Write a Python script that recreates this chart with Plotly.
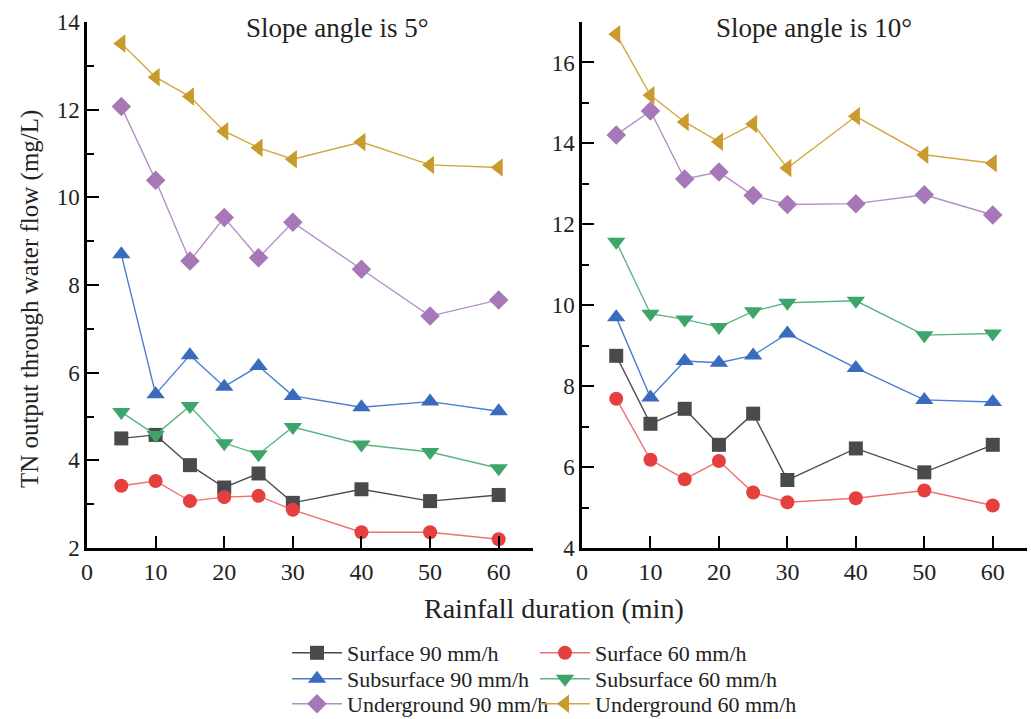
import plotly.graph_objects as go

duration = [5, 10, 15, 20, 25, 30, 40, 50, 60]

# Slope 5 degrees
s5_surface_90 = [4.50, 4.58, 3.89, 3.38, 3.70, 3.03, 3.34, 3.07, 3.21]
s5_surface_60 = [3.42, 3.53, 3.07, 3.16, 3.19, 2.87, 2.36, 2.36, 2.20]
s5_subsurface_90 = [8.70, 5.51, 6.40, 5.68, 6.15, 5.47, 5.21, 5.34, 5.12]
s5_subsurface_60 = [5.10, 4.58, 5.24, 4.39, 4.14, 4.76, 4.36, 4.19, 3.82]
s5_underground_90 = [12.07, 10.39, 8.55, 9.54, 8.62, 9.43, 8.36, 7.29, 7.66]
s5_underground_60 = [13.51, 12.74, 12.30, 11.51, 11.13, 10.87, 11.26, 10.74, 10.68]

# Slope 10 degrees
s10_surface_90 = [8.75, 7.07, 7.44, 6.55, 7.32, 5.68, 6.46, 5.87, 6.55]
s10_surface_60 = [7.69, 6.18, 5.70, 6.15, 5.37, 5.13, 5.23, 5.42, 5.05]
s10_subsurface_90 = [9.70, 7.72, 8.62, 8.58, 8.76, 9.30, 8.45, 7.66, 7.61]
s10_subsurface_60 = [11.57, 9.79, 9.65, 9.46, 9.85, 10.06, 10.11, 9.26, 9.30]
s10_underground_90 = [14.21, 14.80, 13.12, 13.29, 12.71, 12.49, 12.51, 12.73, 12.23]
s10_underground_60 = [16.70, 15.19, 14.53, 14.04, 14.48, 13.39, 14.67, 13.72, 13.51]

names = ["Surface 90 mm/h", "Surface 60 mm/h", "Subsurface 90 mm/h",
         "Subsurface 60 mm/h", "Underground 90 mm/h", "Underground 60 mm/h"]
colors = ["#4a4a4a", "#e5403f", "#3a6cbd", "#3da56a", "#a678b8", "#c99a2c"]
line_colors = ["#4a4a4a", "#ee7070", "#4a7dcc", "#5ab580", "#b48fc6", "#d4a640"]
symbols = ["square", "circle", "triangle-up", "triangle-down", "diamond", "triangle-left"]
sizes = [14, 14, 16, 16, 15, 16]

series5 = [s5_surface_90, s5_surface_60, s5_subsurface_90, s5_subsurface_60,
           s5_underground_90, s5_underground_60]
series10 = [s10_surface_90, s10_surface_60, s10_subsurface_90, s10_subsurface_60,
            s10_underground_90, s10_underground_60]

legend_ids = ["legend", "legend2", "legend3", "legend4", "legend5", "legend6"]

fig = go.Figure()
for i in range(6):
    fig.add_trace(go.Scatter(
        x=duration, y=series5[i], name=names[i], mode="lines+markers",
        line=dict(color=line_colors[i], width=1.4),
        marker=dict(symbol=symbols[i], size=sizes[i], color=colors[i]),
        xaxis="x", yaxis="y", legend=legend_ids[i], showlegend=True))
for i in range(6):
    fig.add_trace(go.Scatter(
        x=duration, y=series10[i], name=names[i], mode="lines+markers",
        line=dict(color=line_colors[i], width=1.4),
        marker=dict(symbol=symbols[i], size=sizes[i], color=colors[i]),
        xaxis="x2", yaxis="y2", showlegend=False))

W, H = 1031, 719
ML, MR, MT, MB = 87, 4, 22, 171
PW = W - ML - MR
PH = H - MT - MB


def px(x):
    return (x - ML) / PW


def py(y):
    return (H - MB - y) / PH


FONT = "Liberation Serif"
TXT = "#222222"

axis_common = dict(
    showline=True, linecolor="black", linewidth=2.5, mirror=False,
    ticks="inside", ticklen=12, tickwidth=2, tickcolor="black",
    showgrid=False, zeroline=False, automargin=False,
    tickfont=dict(family=FONT, size=24, color=TXT),
)

legend_common = dict(orientation="v", itemwidth=50, xanchor="left", yanchor="middle",
                     font=dict(family=FONT, size=22, color=TXT),
                     bgcolor="rgba(0,0,0,0)", borderwidth=0)
leg_x = [287, 535, 287, 535, 287, 535]
leg_y = [653, 653, 679, 679, 704, 704]
legends = {}
for i, lid in enumerate(legend_ids):
    legends[lid] = dict(legend_common, x=px(leg_x[i]), y=py(leg_y[i]))

fig.update_layout(
    width=W, height=H,
    margin=dict(l=ML, r=MR, t=MT, b=MB, autoexpand=False),
    paper_bgcolor="white", plot_bgcolor="white",
    font=dict(family=FONT, color=TXT),
    xaxis=dict(axis_common, domain=[0, px(533)], range=[0, 65],
               tickmode="linear", tick0=0, dtick=10, anchor="y"),
    yaxis=dict(axis_common, range=[2, 14], tickmode="linear", tick0=2, dtick=2,
               anchor="x", tickfont=dict(family=FONT, size=23, color=TXT),
               minor=dict(ticks="inside", ticklen=7, tickwidth=2, tickcolor="black", dtick=1)),
    xaxis2=dict(axis_common, domain=[px(582), 1], range=[0, 65],
                tickmode="linear", tick0=0, dtick=10, anchor="y2"),
    yaxis2=dict(axis_common, range=[4, 17], tickmode="linear", tick0=4, dtick=2,
                anchor="x2", tickfont=dict(family=FONT, size=23, color=TXT),
                minor=dict(ticks="inside", ticklen=7, tickwidth=2, tickcolor="black", dtick=1)),
    annotations=[
        dict(text="Slope angle is 5°", x=px(337), y=py(28), xref="paper", yref="paper",
             showarrow=False, xanchor="center", yanchor="middle",
             font=dict(family=FONT, size=27, color=TXT)),
        dict(text="Slope angle is 10°", x=px(814), y=py(28), xref="paper", yref="paper",
             showarrow=False, xanchor="center", yanchor="middle",
             font=dict(family=FONT, size=27, color=TXT)),
        dict(text="Rainfall duration (min)", x=px(554), y=py(608), xref="paper", yref="paper",
             showarrow=False, xanchor="center", yanchor="middle",
             font=dict(family=FONT, size=28, color=TXT)),
        dict(text="TN output through water flow (mg/L)", x=px(30), y=py(299),
             xref="paper", yref="paper", textangle=-90,
             showarrow=False, xanchor="center", yanchor="middle",
             font=dict(family=FONT, size=25, color=TXT)),
    ],
)
fig.update_layout(**legends)

fig.write_html("out.html", config={"displayModeBar": False},
               post_script="document.body.style.margin='0';document.body.style.overflow='hidden';")
